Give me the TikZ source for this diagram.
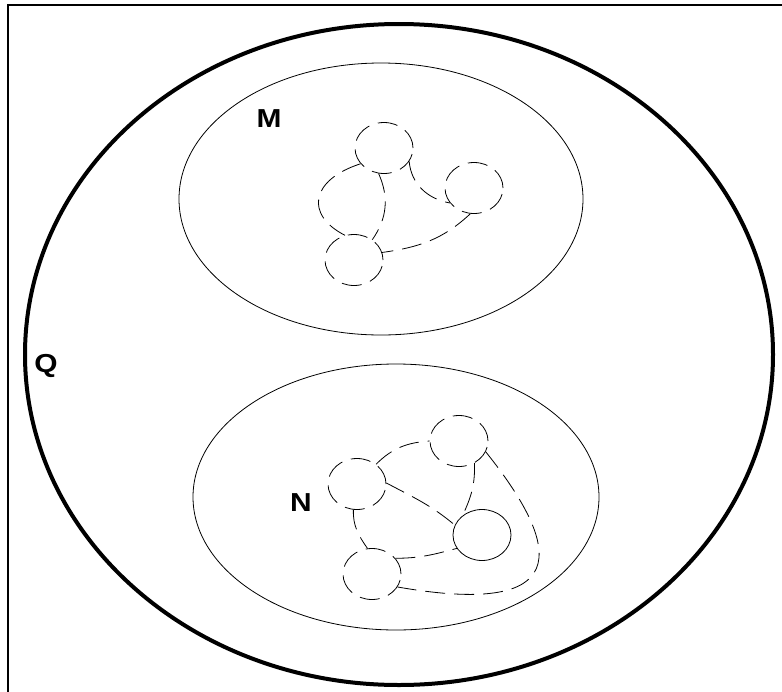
\documentclass[tikz,border=0pt]{standalone}
\usepackage{fontspec}
\setmainfont{Liberation Sans}
\usetikzlibrary{shapes.geometric}
\begin{document}
\begin{tikzpicture}[x=1pt,y=-1pt,
  frameline/.style={line width=2pt,line cap=rect},
  outerset/.style={ellipse,draw,line width=4pt,inner sep=0pt,
    minimum width=748pt,minimum height=661pt},
  innerset/.style={ellipse,draw,line width=0.8pt,inner sep=0pt},
  vtx/.style={ellipse,draw,line width=0.8pt,inner sep=0pt,
    minimum width=58pt,minimum height=51pt},
  dvtx/.style={vtx,dash pattern=on 20pt off 9pt},
  link/.style={line width=0.8pt,dash pattern=on 20pt off 9pt},
  setlabel/.style={font=\fontsize{26}{30}\selectfont\bfseries,inner sep=0pt,xscale=1.15}]
\useasboundingbox (0,0) rectangle (782,691);
\fill[white] (0,0) rectangle (782,691);

% partial frame: top and left edges
\draw[frameline] (7.5,5) -- (782,5);
\draw[frameline] (7.5,5) -- (7.5,691);

% sets
\node[outerset] (setQ) at (399,354.5) {};
\node[innerset,minimum width=404pt,minimum height=272pt] (setM) at (381,199) {};
\node[innerset,minimum width=406pt,minimum height=266pt] (setN) at (396,497) {};

\node[setlabel] (labQ) at (46,366) {Q};
\node[setlabel] (labM) at (269,119) {M};
\node[setlabel] (labN) at (301,503) {N};

% graph inside M
\node[dvtx] (a) at (384,148) {};
\node[dvtx] (b) at (474,188) {};
\node[dvtx] (c) at (354,260) {};
\draw[link] (a.214) .. controls (310,180) and (305,215) .. (c.110);
\draw[link] (a.258) to[out=-66,in=55] (c.48);
\draw[link] (a.332) to[out=-85,in=170] (b.212);
\draw[link] (b.262) to[out=223,in=8] (c.15);

% graph inside N
\node[dvtx] (d) at (357,484) {};
\node[dvtx] (e) at (459,441) {};
\node[vtx]  (f) at (482,535) {};
\node[dvtx] (g) at (372,574) {};
\draw[link] (d.46) to[out=45,in=184] (e.180);
\draw[link] (d.2) to[out=-28,in=140] (f.160);
\draw[link] (e.305) to[out=-88,in=65] (f.135);
\draw[link] (d.262) to[out=-92,in=125] (g.100);
\draw[link] (g.34) to[out=0,in=195] (f.208);
\draw[link] (e.-22) .. controls (578,567) and (552,614) .. (g.-27);
\end{tikzpicture}
\end{document}
